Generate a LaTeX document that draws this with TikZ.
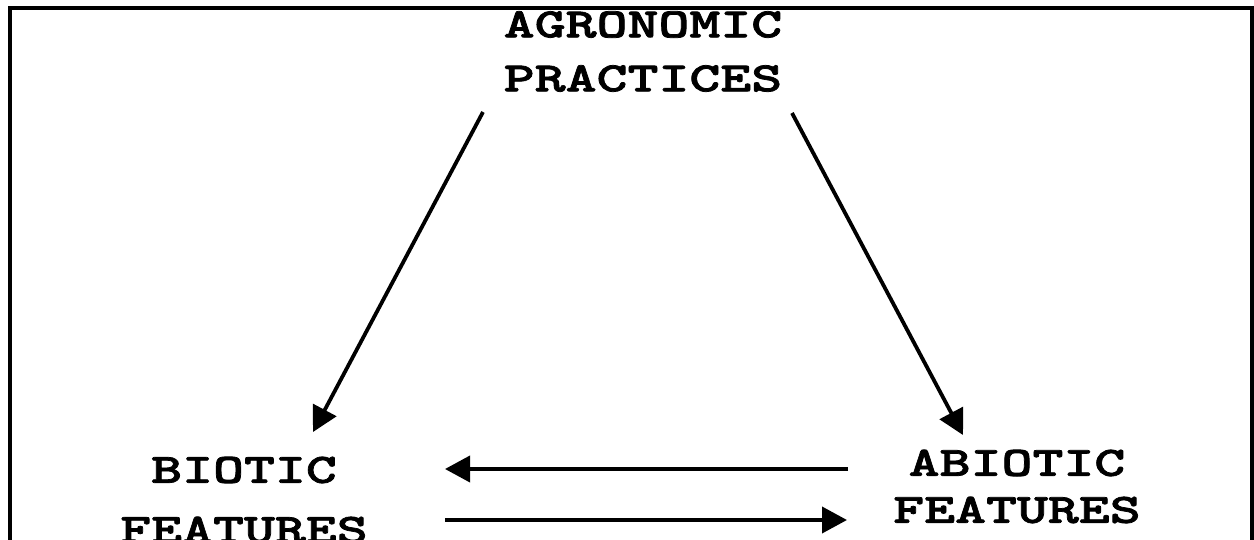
\documentclass[tikz,border=0pt]{standalone}
\usepackage{fontspec}
\newfontfamily\courfont{lmmonolt10-bold}[Extension=.otf, FakeStretch=1.41, FakeBold=1.8]
\usetikzlibrary{arrows.meta,calc}
\tikzset{
  lbl/.style={align=center, inner sep=0pt, font=\courfont\fontsize{20.9}{23.5}\selectfont},
  arr/.style={-{Triangle[length=12.5pt,width=13pt]}, line width=1.9pt, black},
  frm/.style={line width=2pt, black},
}
\begin{document}
\begin{tikzpicture}[x=0.5pt, y=-0.5pt]
    \useasboundingbox (0,0) rectangle (1254,540);
    \draw[frm] (9.5,560) -- (9.5,8.5) -- (1252,8.5) -- (1252,560);
    \node[lbl] (agro) at (643,51.5) {AGRONOMIC\\[3.5pt]PRACTICES};
    \node[lbl] (biotic) at (244,500) {BIOTIC\\[6.5pt]FEATURES};
    \node[lbl] (abiotic) at (1017,486.5) {ABIOTIC\\FEATURES};
    \draw[arr] ($(agro)+(-160,60.5)$) -- ($(biotic)+(69,-68)$);
    \draw[arr] ($(agro)+(149,61.5)$) -- ($(abiotic)+(-54,-51.5)$);
    \draw[arr] ($(abiotic)+(-169,-17.5)$) -- ($(biotic)+(201,-31)$);
    \draw[arr] ($(biotic)+(201,20)$) -- ($(abiotic)+(-170,33.5)$);
\end{tikzpicture}
\end{document}
